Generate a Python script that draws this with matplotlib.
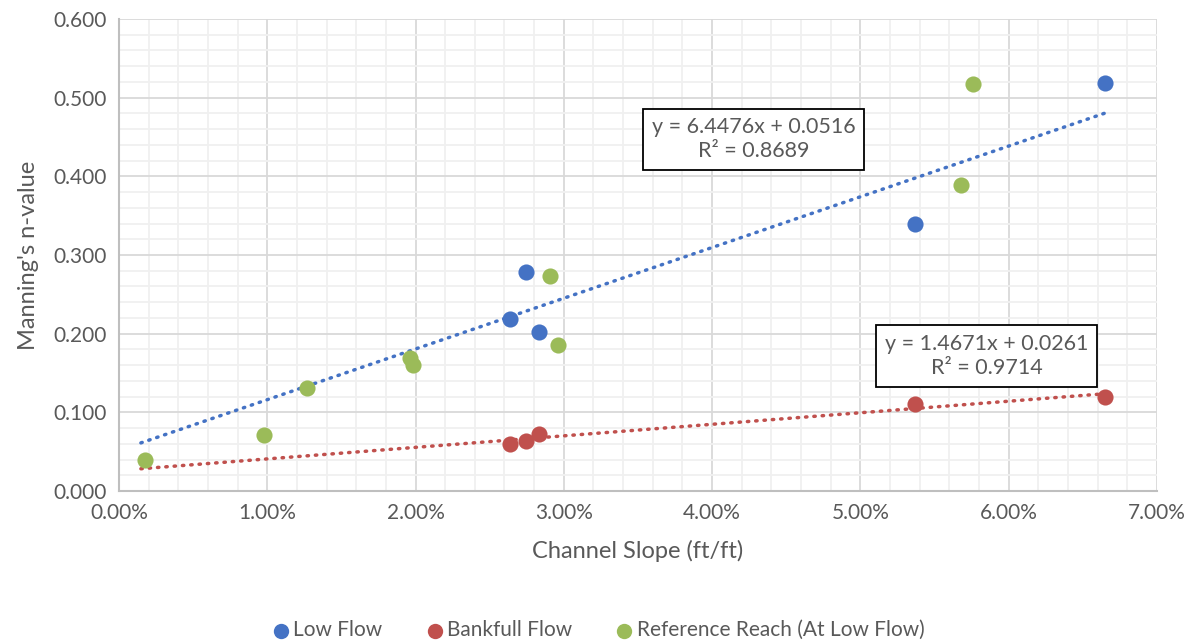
import numpy as np
import matplotlib
matplotlib.use("Agg")
import matplotlib.pyplot as plt
from matplotlib.ticker import MultipleLocator, FuncFormatter

plt.rcParams['font.family'] = ['Lato', 'DejaVu Sans']

# data (slope as fraction, n-value)
low_x = [0.0264, 0.02745, 0.0283, 0.0537, 0.0665]
low_y = [0.219, 0.279, 0.202, 0.339, 0.519]

bank_x = [0.0264, 0.02745, 0.0283, 0.0537, 0.0665]
bank_y = [0.060, 0.064, 0.072, 0.110, 0.120]

ref_x = [0.00175, 0.0098, 0.0127, 0.0196, 0.0198, 0.0291, 0.0296, 0.0568, 0.0576]
ref_y = [0.040, 0.071, 0.131, 0.169, 0.160, 0.273, 0.186, 0.389, 0.517]

# trendlines (as printed on the chart)
low_fit = (6.4476, 0.0516, 0.8689)
bank_fit = (1.4671, 0.0261, 0.9714)
trend_range = (0.00148, 0.0665)

c_blue = '#4472C4'
c_red = '#C0504D'
c_green = '#9BBB59'
txt = '#595959'

fig = plt.figure(figsize=(11.93, 6.43), dpi=100)
ax = fig.add_axes([0.0997, 0.2364, 0.8701, 0.7341])

tx = np.array(trend_range)
for (m, b, r2), col in [(low_fit, c_blue), (bank_fit, c_red)]:
    ax.plot(tx, m * tx + b, color=col, lw=2.5, linestyle=(0, (0.4, 2.0)),
            dash_capstyle='round', zorder=3)

ax.scatter(low_x, low_y, s=135, color=c_blue, zorder=4, label='Low Flow', linewidths=0)
ax.scatter(bank_x, bank_y, s=135, color=c_red, zorder=4, label='Bankfull Flow', linewidths=0)
ax.scatter(ref_x, ref_y, s=135, color=c_green, zorder=4,
           label='Reference Reach (At Low Flow)', linewidths=0)

ax.set_xlim(0, 0.07)
ax.set_ylim(0, 0.6)
ax.xaxis.set_major_locator(MultipleLocator(0.01))
ax.xaxis.set_minor_locator(MultipleLocator(0.002))
ax.yaxis.set_major_locator(MultipleLocator(0.1))
ax.yaxis.set_minor_locator(MultipleLocator(0.02))
ax.xaxis.set_major_formatter(FuncFormatter(lambda v, p: f"{v*100:.2f}%"))
ax.yaxis.set_major_formatter(FuncFormatter(lambda v, p: f"{v:.3f}"))

ax.grid(which='major', color='#d9d9d9', lw=1.3, zorder=0)
ax.grid(which='minor', color='#f0f0f0', lw=1.3, zorder=0)
ax.set_axisbelow(True)
ax.tick_params(which='both', length=0, labelsize=15, colors=txt, pad=9)
for s in ['top', 'right']:
    ax.spines[s].set_visible(False)
for s in ['left', 'bottom']:
    ax.spines[s].set_color('#bfbfbf')
    ax.spines[s].set_linewidth(1.5)

ax.set_xlabel('Channel Slope (ft/ft)', fontsize=17, color=txt, labelpad=12)
ax.set_ylabel("Manning's n-value", fontsize=17, color=txt, labelpad=10)

box = dict(boxstyle='square,pad=0.4', facecolor='white', edgecolor='black', lw=1.3)
ax.text(0.0428, 0.447, f"y = {low_fit[0]}x + {low_fit[1]}\nR² = {low_fit[2]}",
        ha='center', va='center', fontsize=15.5, color=txt, bbox=box, zorder=5,
        linespacing=1.25)
ax.text(0.0585, 0.1716, f"y = {bank_fit[0]}x + {bank_fit[1]}\nR² = {bank_fit[2]}",
        ha='center', va='center', fontsize=15.5, color=txt, bbox=box, zorder=5,
        linespacing=1.25)

leg = fig.legend(loc='lower center', bbox_to_anchor=(0.5, -0.025), ncol=3,
                 frameon=False, fontsize=15, handletextpad=0.0, handlelength=1.2,
                 columnspacing=1.9, markerscale=0.95)
for t in leg.get_texts():
    t.set_color(txt)

fig.savefig('out.png', dpi=100)
